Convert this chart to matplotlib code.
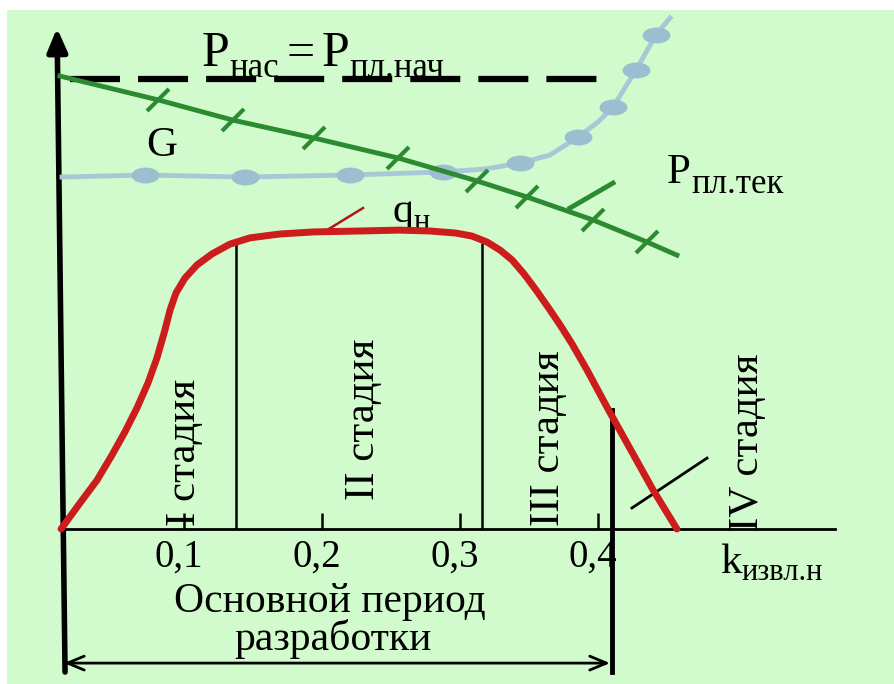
import numpy as np
import matplotlib
matplotlib.use("Agg")
import matplotlib.pyplot as plt
from matplotlib.markers import MarkerStyle
from matplotlib.patches import Rectangle
from matplotlib.path import Path
from matplotlib.transforms import Affine2D

plt.rcParams['font.family'] = ['Liberation Serif', 'DejaVu Serif']
plt.rcParams['lines.scale_dashes'] = False

# oil rate q_n vs recovery factor (relative units, plateau ~ 1)
q_k = [0.0109, 0.0246, 0.0370, 0.0478, 0.0572, 0.0659, 0.0739, 0.0804, 0.0862,
       0.0899, 0.0942, 0.1007, 0.1094, 0.1203, 0.1333, 0.1478, 0.1696, 0.1942,
       0.2275, 0.2558, 0.2783, 0.2971, 0.3087, 0.3196, 0.3290, 0.3377, 0.3464,
       0.3551, 0.3652, 0.3725, 0.3812, 0.3920, 0.4065, 0.4399, 0.4572]
q_val = [0.0, 0.087, 0.164, 0.248, 0.326, 0.406, 0.490, 0.574, 0.668,
         0.735, 0.792, 0.842, 0.886, 0.923, 0.956, 0.977, 0.990, 0.997,
         1.000, 1.003, 1.000, 0.993, 0.983, 0.963, 0.936, 0.903, 0.856,
         0.802, 0.735, 0.685, 0.621, 0.534, 0.409, 0.131, 0.0]

# current reservoir pressure P_pl.tek
p_k = [0.0101, 0.0812, 0.1355, 0.1942, 0.2551, 0.3123, 0.3486, 0.3964, 0.4355, 0.4572]
p_val = [1.520, 1.440, 1.372, 1.312, 1.245, 1.168, 1.114, 1.037, 0.963, 0.919]

# gas factor G
g_k = [0.0116, 0.0717, 0.1442, 0.2203, 0.2877, 0.3181, 0.3435, 0.3652, 0.3855,
       0.4000, 0.4109, 0.4275, 0.4420, 0.4522]
g_val = [1.181, 1.188, 1.181, 1.188, 1.198, 1.208, 1.228, 1.255, 1.315,
         1.366, 1.416, 1.540, 1.658, 1.715]
g_marks = [1, 2, 3, 4, 6, 8, 10, 11, 12]

p_sat = 1.510
p_sat_k = [0.0174, 0.4007]

ticks = [0.1, 0.2, 0.3, 0.4]
tick_labels = ['0,1', '0,2', '0,3', '0,4']

stage_bounds = [0.1377, 0.3159]
main_end = 0.4101

stage_labels = ['I стадия', 'II стадия', 'III стадия', 'IV стадия']
stage_k = [0.1007, 0.2304, 0.3645, 0.5087]
stage_y = [0.258, 0.369, 0.305, 0.292]

bg = '#d1fbcc'
red = '#cc1c1c'
green = '#2c8a30'
blue_line = '#a8c8d6'
blue_mark = '#9bbfd1'

fig = plt.figure(figsize=(8.94, 6.84), dpi=100, facecolor='white')
fig.add_artist(Rectangle((7 / 894, 0), 1 - 7 / 894, 1 - 10 / 684,
                         transform=fig.transFigure, facecolor=bg,
                         edgecolor='none', zorder=0))
ax = fig.add_axes([0, 0, 1, 1])
ax.set_facecolor('none')
ax.set_xlim(-46 / 1380, (894 - 46) / 1380)
ax.set_ylim((529 - 684) / 298, 529 / 298)
ax.axis('off')


def compound(x, y, parts):
    # text pieces chained left to right: (text, size, x gap pt, baseline shift pt)
    prev = None
    for text, size, gap, dy in parts:
        if prev is None:
            prev = ax.text(x, y, text, fontsize=size, ha='left', va='baseline')
        else:
            prev = ax.annotate(text, xy=(1, y), xycoords=(prev, 'data'),
                               xytext=(gap, dy), textcoords='offset points',
                               fontsize=size, ha='left', va='baseline')
    return prev


# axes
ax.annotate('', xy=(0.0080, 1.681), xytext=(0.0138, -0.480),
            arrowprops=dict(arrowstyle='-|>,head_length=0.7,head_width=0.3',
                            lw=4, color='black', shrinkA=0, shrinkB=0,
                            mutation_scale=20))
ax.plot([0.0109, 0.5717], [0, 0], color='black', lw=2)
ax.vlines(ticks, 0, 0.054, color='black', lw=1.8)
for t, lab in zip(ticks, tick_labels):
    ax.text(t - 0.004, -0.094, lab, ha='center', va='center', fontsize=28)
compound(0.4884, -0.148, [('k', 31, 0, 0), ('извл.н', 22, 0, -5)])

# saturation pressure (dashed)
ax.plot(p_sat_k, [p_sat, p_sat], color='black', lw=4.5, ls=(0, (36, 13)))
compound(0.1130, 1.554, [('P', 36, 0, 0), ('нас', 25, 0, -8),
                         ('=', 36, 5, 0), ('P', 36, 5, 0),
                         ('пл.нач', 25, 0, -8)])

# gas factor
ell = Path.unit_circle().transformed(Affine2D().scale(1, 0.55))
ax.plot(g_k, g_val, color=blue_line, lw=3.5, marker=ell, markevery=g_marks,
        markersize=19, markerfacecolor=blue_mark, markeredgecolor=blue_mark,
        zorder=3)
ax.text(0.0841, 1.285, 'G', ha='center', va='center', fontsize=31)

# reservoir pressure
ax.plot(p_k, p_val, color=green, lw=3.5, zorder=4)
tick_mark = MarkerStyle('|', transform=Affine2D().rotate_deg(-45))
ax.plot(p_k[1:-1], p_val[1:-1], ls='none', marker=tick_mark, markersize=22,
        markeredgewidth=3, color=green, zorder=4)
ax.plot([0.3797, 0.4109], [1.077, 1.161], color=green, lw=3.5, zorder=4)
compound(0.450, 1.161, [('P', 31, 0, 0), ('пл.тек', 25, 0, -7)])

# oil rate
ax.plot(q_k, q_val, color=red, lw=5, zorder=5, solid_joinstyle='round',
        solid_capstyle='round')
ax.plot([0.2036, 0.2297], [1.003, 1.077], color='#b01818', lw=1.8)
compound(0.2514, 1.030, [('q', 30, 0, 0), ('н', 22, 0, -6)])

# stage boundaries
ax.vlines(stage_bounds, 0, 0.96, color='black', lw=1.8)
ax.plot([main_end, main_end], [0.40, -0.480], color='black', lw=3.5)
ax.plot([0.4246, 0.4790], [0.0705, 0.238], color='black', lw=2)
for k, y, lab in zip(stage_k, stage_y, stage_labels):
    ax.text(k, y, lab, rotation=90, ha='center', va='center', fontsize=31)

# main development period
ax.annotate('', xy=(0.0130, -0.450), xytext=(0.4087, -0.450),
            arrowprops=dict(arrowstyle='<->,head_length=0.6,head_width=0.25',
                            lw=2, color='black', shrinkA=0, shrinkB=0,
                            mutation_scale=20))
ax.text(0.2058, -0.245, 'Основной период', ha='center', va='center', fontsize=30)
ax.text(0.2080, -0.368, 'разработки', ha='center', va='center', fontsize=30)

fig.savefig('out.png', dpi=100, facecolor='white')
